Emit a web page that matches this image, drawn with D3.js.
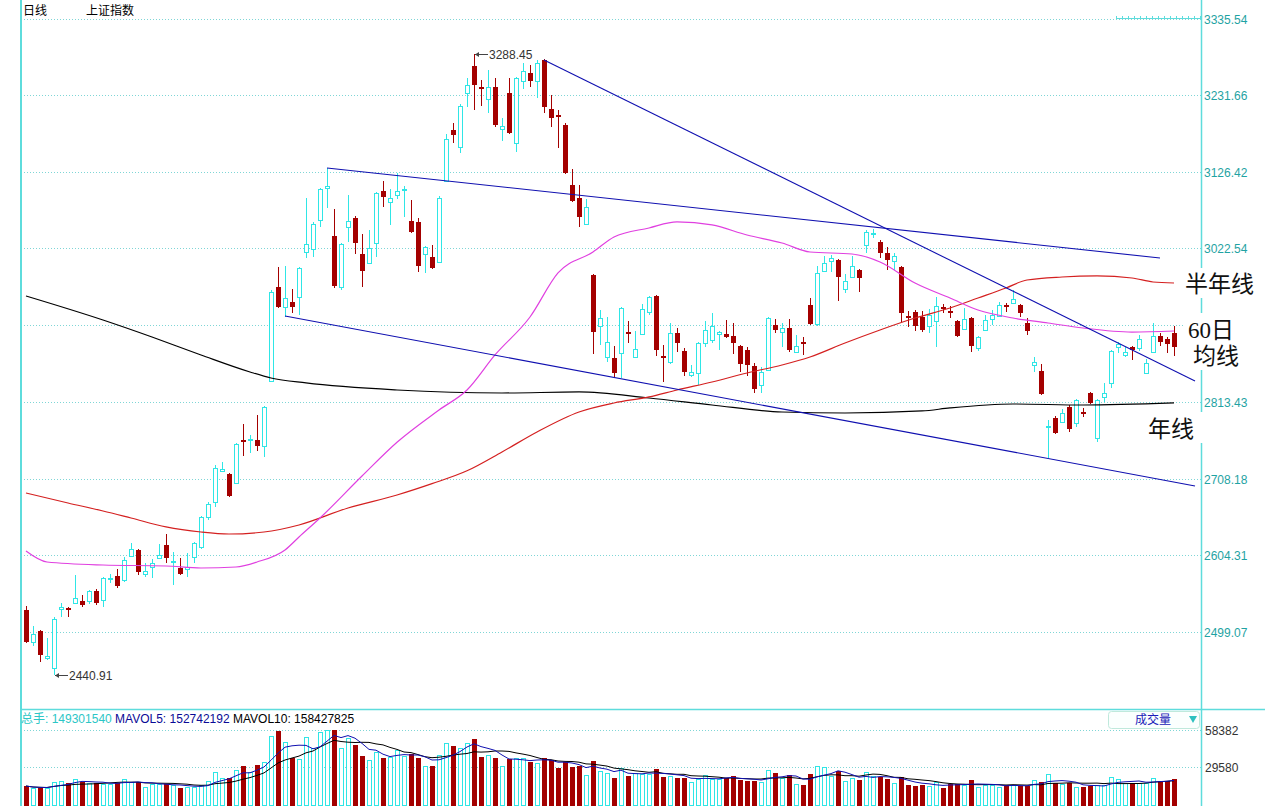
<!DOCTYPE html>
<html><head><meta charset="utf-8">
<script src="https://cdn.jsdelivr.net/npm/d3@7"></script>
<style>body{margin:0;background:#fff}svg{display:block}</style>
</head><body><svg id="c" width="1265" height="806"></svg>
<script>
// ---------------- DATA ----------------
const open=[2529.1,2485.4,2500.4,2463.6,2449.9,2530.5,2531.8,2538.6,2541.4,2541.4,
2555.0,2542.7,2571.4,2575.5,2570.0,2602.8,2611.0,2578.2,2587.8,2600.1,
2617.8,2594.6,2586.4,2585.0,2601.4,2615.1,2656.0,2676.5,2718.8,2714.7,
2702.4,2761.1,2761.1,2761.1,2752.9,2841.6,2969.9,2942.6,2949.4,2956.2,
3017.6,3021.7,3061.3,3105.0,3039.5,2969.9,3051.7,3064.0,3014.9,3002.6,
3029.9,3100.9,3085.9,3095.4,3102.2,3059.9,3058.6,3014.9,3010.8,3004.0,
3114.5,3184.1,3160.9,3234.6,3271.4,3242.8,3226.4,3242.8,3185.5,3234.6,
3166.4,3251.0,3261.9,3251.0,3279.6,3212.8,3204.6,3190.9,3109.1,3091.3,
3055.8,2986.2,2916.6,2874.3,2873.0,2879.8,2908.5,2874.3,2905.7,2935.7,
2957.6,2875.7,2867.5,2907.1,2882.5,2849.8,2852.5,2893.4,2897.5,2905.7,
2905.7,2903.0,2889.4,2883.9,2862.0,2836.1,2856.6,2918.0,2908.5,2913.9,
2881.2,2894.8,2945.3,2919.4,2991.7,3005.3,3006.7,2967.1,2983.5,2993.1,
3027.2,3042.2,3031.3,3016.3,3005.3,2997.2,2930.3,2935.7,2928.9,2916.6,
2923.5,2942.6,2937.1,2923.5,2912.6,2927.6,2886.6,2911.2,2926.2,2930.3,
2945.3,2948.0,2945.3,2920.7,2863.4,2855.2,2778.8,2791.1,2785.6,2806.1,
2784.3,2799.3,2825.2,2763.8,2819.8,2838.9,2888.0,2877.1,2888.0,2886.6,
2852.5,2881.2,2903.0,2898.9,2907.1];
const high=[2534.5,2507.3,2501.8,2490.9,2519.5,2538.6,2533.2,2576.9,2549.6,2556.4,
2557.8,2574.1,2578.2,2585.0,2601.4,2620.5,2612.3,2593.2,2598.7,2619.2,
2632.8,2608.2,2600.1,2606.9,2621.9,2657.4,2676.5,2727.0,2731.1,2716.0,
2757.0,2782.9,2767.9,2795.2,2807.5,2965.8,2997.2,2998.5,2967.1,2997.2,
3091.3,3058.6,3105.0,3132.3,3076.3,3029.9,3095.4,3066.8,3042.2,3047.6,
3099.5,3114.5,3103.6,3125.4,3107.7,3088.6,3064.0,3025.8,3027.2,3094.0,
3178.6,3193.7,3219.6,3255.1,3288.45,3252.3,3266.0,3255.1,3200.5,3255.1,
3256.4,3275.5,3272.8,3279.6,3281.0,3231.9,3211.4,3193.7,3130.9,3109.1,
3089.9,2987.6,2938.5,2928.9,2889.4,2942.6,2923.5,2909.8,2946.7,2957.6,
2958.9,2890.7,2920.7,2913.9,2886.6,2863.4,2894.8,2923.5,2934.4,2909.8,
2924.8,2920.7,2890.7,2888.0,2866.2,2860.7,2928.9,2926.2,2920.7,2926.2,
2904.4,2901.6,2954.9,2998.5,3012.2,3013.5,3008.1,2987.6,3012.2,2994.4,
3047.6,3049.0,3034.0,3024.4,3016.3,2998.5,2937.1,2938.5,2937.1,2939.8,
2956.2,2946.7,2943.9,2924.8,2941.2,2928.9,2903.0,2931.7,2938.5,2949.4,
2948.0,2965.8,2946.7,2927.6,2874.3,2864.8,2788.4,2793.8,2803.4,2808.8,
2817.0,2804.7,2826.6,2817.0,2838.9,2883.9,2894.8,2888.0,2889.4,2904.4,
2871.6,2920.7,2907.1,2901.6,2916.6];
const low=[2484.0,2480.0,2458.1,2460.9,2440.91,2519.5,2519.5,2537.5,2533.2,2537.3,
2535.9,2533.2,2565.9,2559.1,2567.3,2601.4,2576.9,2574.1,2572.8,2598.7,
2593.2,2563.2,2576.9,2574.1,2593.2,2612.3,2651.9,2669.7,2717.4,2683.3,
2701.0,2739.2,2743.3,2746.1,2737.9,2840.2,2941.2,2928.9,2934.4,2931.7,
3009.4,3010.8,3051.7,3077.7,2968.5,2965.8,3031.3,3014.9,2969.9,3001.5,
3010.8,3079.0,3054.5,3089.9,3065.4,3043.6,2990.3,2989.0,2994.4,3002.6,
3113.1,3166.4,3152.7,3215.5,3211.4,3216.9,3207.3,3188.2,3169.1,3178.6,
3154.1,3240.1,3242.8,3227.8,3207.3,3188.2,3159.5,3124.1,3086.0,3051.7,
3054.5,2878.4,2890.7,2867.5,2847.0,2845.7,2893.4,2873.0,2904.4,2931.7,
2875.7,2840.2,2864.8,2881.2,2848.4,2847.0,2836.1,2888.0,2893.4,2883.9,
2900.3,2878.4,2853.9,2848.4,2825.2,2825.2,2855.2,2907.1,2888.0,2881.2,
2879.8,2877.1,2918.0,2916.6,2990.3,2990.3,2950.8,2961.7,2982.0,2963.0,
3016.3,3036.7,3009.4,2993.1,2993.1,2922.1,2915.3,2909.8,2908.5,2907.1,
2888.0,2934.4,2927.6,2902.0,2911.2,2881.2,2882.5,2909.8,2918.0,2928.9,
2935.7,2947.0,2928.9,2904.4,2853.9,2822.5,2736.5,2769.3,2784.3,2772.0,
2778.8,2792.5,2810.2,2758.4,2812.9,2832.0,2879.8,2874.3,2870.2,2882.5,
2851.5,2879.8,2889.4,2879.8,2875.7];
const close=[2485.4,2496.3,2467.7,2466.3,2516.8,2533.2,2529.1,2545.5,2535.9,2555.0,
2538.6,2572.8,2573.0,2561.8,2597.3,2612.3,2581.0,2582.3,2593.2,2604.1,
2600.1,2596.0,2578.2,2587.8,2620.5,2656.0,2673.7,2722.9,2721.5,2684.7,
2755.6,2758.4,2762.4,2752.9,2806.1,2963.0,2942.6,2954.9,2942.6,2995.8,
3028.5,3055.8,3103.6,3107.7,2971.2,3028.5,3059.9,3029.9,2991.7,3023.1,
3098.1,3092.7,3091.3,3100.9,3103.6,3044.9,2998.5,3024.4,2995.8,3091.3,
3171.8,3177.3,3216.9,3245.5,3245.5,3240.1,3242.8,3190.9,3189.6,3180.0,
3255.1,3264.6,3251.0,3275.5,3215.5,3200.5,3201.8,3125.4,3087.2,3065.4,
3079.0,2908.5,2927.6,2894.8,2852.5,2941.2,2905.7,2885.3,2939.8,2956.2,
2883.9,2873.0,2907.1,2893.4,2853.9,2853.9,2893.4,2911.2,2916.6,2908.5,
2901.6,2893.4,2864.8,2863.4,2830.7,2853.9,2927.6,2911.2,2913.9,2883.9,
2889.4,2892.1,2919.4,2989.0,3002.6,3009.4,2983.5,2978.1,2998.5,2982.1,
3044.9,3043.6,3016.3,3006.7,3012.2,2934.4,2927.6,2916.6,2911.2,2931.7,
2943.9,2939.8,2934.4,2903.0,2926.2,2889.4,2901.6,2924.8,2931.7,2945.3,
2942.6,2953.5,2934.4,2909.8,2867.5,2823.9,2780.2,2770.6,2797.9,2776.1,
2815.7,2796.6,2811.6,2815.7,2825.2,2882.5,2892.1,2881.2,2883.9,2898.9,
2866.2,2903.0,2894.8,2892.1,2888.0];
const volume=[14790,13230,13230,13230,17900,18680,17120,20240,17900,17120,
17120,16350,16350,17120,20240,17900,17900,14010,16350,16350,
16350,15570,13230,14010,14010,15570,18680,25690,21020,21020,
27240,30360,25690,31140,33470,53710,57600,49040,36580,35810,
52930,44370,56820,58380,58380,44370,52150,46700,38140,35030,
41260,36580,37360,42810,38140,39700,36580,30360,30360,38920,
48260,45930,44370,48260,51370,37360,38920,36580,30360,35810,
36580,36580,33470,32690,36580,35030,28800,33470,29580,30360,
23350,34250,26470,24910,21020,28800,22570,24910,24130,24130,
28020,21800,22570,21020,21020,17900,20240,23350,20240,20240,
21020,22570,19460,18680,18680,17900,27240,24910,21020,23350,
16350,15570,24130,30360,29580,22570,26470,18680,21020,19460,
25690,22570,21800,20240,17120,21800,15570,14790,15570,14790,
17900,13230,16350,16350,15570,19460,14010,15570,15570,14010,
15570,15570,14790,14790,19460,17900,24130,17120,16350,17120,
14010,14010,14790,15570,15570,21800,20240,17120,17120,17120,
17120,21020,18680,18680,20240];
// moving-average lines: [bar index, price]
const ma60=[[0,2609.6],[3,2594.6],[11,2590.5],[20,2589.1],[25,2586.4],[30,2587.8],[33,2594.6],[37,2611.0],[39,2628.7],[42,2654.6],[48,2711.9],[53,2758.0],[59,2802.0],[63,2829.3],[67,2877.1],[72,2928.9],[76,2989.0],[81,3017.6],[84,3038.1],[89,3050.4],[93,3058.6],[98,3054.5],[103,3040.8],[108,3029.9],[112,3017.6],[118,3014.9],[122,3004.0],[127,2975.3],[132,2954.8],[136,2938.4],[141,2927.5],[146,2920.7],[151,2913.9],[158,2908.4],[164,2909.8]];
const ma120=[[0,2688.7],[6,2675.1],[11,2664.2],[15,2654.6],[20,2642.4],[25,2635.5],[29,2632.8],[34,2635.5],[39,2645.1],[46,2668.3],[53,2686.0],[58,2701.5],[63,2719.0],[68,2744.7],[73,2772.0],[79,2799.3],[84,2811.6],[89,2819.8],[93,2829.3],[98,2840.2],[103,2852.5],[108,2863.4],[112,2874.3],[117,2893.4],[122,2911.2],[127,2927.5],[132,2941.2],[136,2954.8],[140,2968.5],[143,2979.4],[148,2983.5],[153,2984.9],[158,2982.1],[161,2976.7],[164,2975.3]];
const ma250=[[0,2957.6],[11,2924.8],[18,2901.6],[25,2877.1],[32,2853.9],[35,2845.7],[40,2838.9],[53,2829.3],[68,2825.2],[79,2826.6],[89,2818.4],[98,2808.8],[108,2799.3],[117,2797.9],[128,2800.7],[132,2804.8],[141,2810.2],[151,2808.8],[164,2811.6]];
// hand-drawn trend lines: [bar index, price]
const trendUpper=[[43,3132.3],[162,3009.4]];
const trendLower=[[37,2930.3],[167,2698.3]];
const trendDesc=[[74,3279.6],[167,2841.6]];
const gridValues=[3335.54,3231.66,3126.42,3022.54,2917.99,2813.43,2708.18,2604.31,2499.07];
const priceTickLabels=["3335.54","3231.66","3126.42","3022.54","","2813.43","2708.18","2604.31","2499.07"];
const volTicks=[58382,29580];
const extremeMarks=[{i:64,v:3288.45},{i:4,v:2440.91}];
const volHeader=[{t:"总手: 149301540",c:"#2cc6c6"},{t:"MAVOL5: 152742192",c:"#0a0a96"},{t:"MAVOL10: 158427825",c:"#000"}];
const notes=[{lines:["半年线"],x:1185,y:292,box:[1183,268,78,30]},{lines:["60日","均线"],x:1188,y:338,box:[1185,313,64,57]},{lines:["年线"],x:1148,y:437,box:[1145,412,58,31]}];

// ---------------- DRAW ----------------
const svg=d3.select('#c');
const CY='#2fe6e6', RD='#a40000', GRID='#7fd6d6', AX='#5edcdc', LBL='#1fa3a3';
const x=d3.scaleLinear().domain([0,164]).range([26,1174]);
const y=d3.scaleLinear().domain([2499.07,3335.54]).range([632,19]);
const yv=d3.scaleLinear().domain([0,58382]).range([805,730]);
svg.append('rect').attr('width',1265).attr('height',806).attr('fill','#fff');

// header
svg.append('text').attr('x',23).attr('y',15).attr('font-size',12).attr('font-family','"Noto Sans CJK SC",sans-serif').text('日线');
svg.append('text').attr('x',86).attr('y',15).attr('font-size',12).attr('font-family','"Noto Sans CJK SC",sans-serif').text('上证指数');

// grid price
const gp=svg.append('g');
gridValues.forEach((t,k)=>{
  gp.append('line').attr('x1',21).attr('x2',1201).attr('y1',Math.round(y(t))+0.5).attr('y2',Math.round(y(t))+0.5)
    .attr('stroke',GRID).attr('stroke-dasharray','1,2');
  if(priceTickLabels[k]) gp.append('text').attr('x',1204).attr('y',Math.round(y(t))+5).attr('font-size',12)
    .attr('font-family','"Liberation Sans",Arial,sans-serif').attr('fill',LBL).text(priceTickLabels[k]);
});
volTicks.forEach(t=>{
  gp.append('line').attr('x1',21).attr('x2',1201).attr('y1',Math.round(yv(t))+0.5).attr('y2',Math.round(yv(t))+0.5)
    .attr('stroke',GRID).attr('stroke-dasharray','1,2');
  gp.append('text').attr('x',1205).attr('y',Math.round(yv(t))+5).attr('font-size',12)
    .attr('font-family','"Liberation Sans",Arial,sans-serif').attr('fill','#333').text(t);
});

// mini ruler top right
svg.append('line').attr('x1',1116).attr('x2',1201).attr('y1',18.5).attr('y2',18.5).attr('stroke',AX);
d3.range(1116,1201,6).forEach(v=>svg.append('line').attr('x1',v+0.5).attr('x2',v+0.5).attr('y1',16).attr('y2',19).attr('stroke',AX));

// candles
const idx=d3.range(open.length);
const cg=svg.append('g').attr('shape-rendering','crispEdges');
idx.forEach(i=>{
  const cx=Math.round(x(i)); const up=close[i]>=open[i];
  const yt=Math.round(y(Math.max(open[i],close[i]))), yb=Math.round(y(Math.min(open[i],close[i])));
  const yh=Math.round(y(high[i])), yl=Math.round(y(low[i]));
  if(up){
    cg.append('line').attr('x1',cx+0.5).attr('x2',cx+0.5).attr('y1',yh).attr('y2',yt).attr('stroke',CY);
    cg.append('line').attr('x1',cx+0.5).attr('x2',cx+0.5).attr('y1',yb).attr('y2',yl).attr('stroke',CY);
    if(yb-yt<2){cg.append('rect').attr('x',cx-2).attr('y',yt).attr('width',5).attr('height',yb-yt+1).attr('fill',CY);}
    else cg.append('rect').attr('x',cx-1.5).attr('y',yt+0.5).attr('width',4).attr('height',yb-yt).attr('fill','#fff').attr('stroke',CY);
  } else {
    cg.append('line').attr('x1',cx+0.5).attr('x2',cx+0.5).attr('y1',yh).attr('y2',yl).attr('stroke',RD);
    cg.append('rect').attr('x',cx-2).attr('y',yt).attr('width',5).attr('height',Math.max(1,yb-yt)).attr('fill',RD);
  }
});

// MA lines
const line=d3.line().x(d=>x(d[0])).y(d=>y(d[1])).curve(d3.curveMonotoneX);
svg.append('path').attr('d',line(ma250)).attr('fill','none').attr('stroke','#000').attr('stroke-width',1.2);
svg.append('path').attr('d',line(ma120)).attr('fill','none').attr('stroke','#d42020').attr('stroke-width',1.2);
svg.append('path').attr('d',line(ma60)).attr('fill','none').attr('stroke','#e040e0').attr('stroke-width',1.2);
// trend lines
const tl=d3.line().x(d=>x(d[0])).y(d=>y(d[1]));
[trendUpper,trendLower,trendDesc].forEach(t=>svg.append('path').attr('d',tl(t)).attr('fill','none').attr('stroke','#1010b0').attr('stroke-width',1.1));

// extreme labels
extremeMarks.forEach(m=>{
  const px=Math.round(x(m.i))+1, py=Math.round(y(m.v))+0.5;
  svg.append('line').attr('x1',px).attr('x2',px+13).attr('y1',py).attr('y2',py).attr('stroke','#444');
  svg.append('path').attr('d',`M${px},${py} l4,-2.5 l0,5 z`).attr('fill','#444');
  svg.append('text').attr('x',px+14).attr('y',py+4.5).attr('font-size',12)
    .attr('font-family','"Liberation Sans",Arial,sans-serif').attr('fill','#333').text(m.v.toFixed(2));
});

// volume panel
const vg=svg.append('g').attr('shape-rendering','crispEdges');
idx.forEach(i=>{
  const cx=Math.round(x(i)); const up=close[i]>=open[i]; const yt=Math.round(yv(volume[i]));
  if(up) vg.append('rect').attr('x',cx-1.5).attr('y',yt+0.5).attr('width',4).attr('height',805-yt).attr('fill','#fff').attr('stroke',CY);
  else vg.append('rect').attr('x',cx-2).attr('y',yt).attr('width',5).attr('height',806-yt).attr('fill',RD);
});
const mav=n=>volume.map((v,i)=>d3.mean(volume.slice(Math.max(0,i-n+1),i+1)));
const vline=d3.line().x((d,i)=>x(i)).y(d=>yv(d));
svg.append('path').attr('d',vline(mav(10))).attr('fill','none').attr('stroke','#000').attr('stroke-width',1);
svg.append('path').attr('d',vline(mav(5))).attr('fill','none').attr('stroke','#1010b0').attr('stroke-width',1);

// frame lines
svg.append('line').attr('x1',21).attr('x2',21).attr('y1',0).attr('y2',806).attr('stroke',AX).attr('stroke-width',2);
svg.append('line').attr('x1',1201.5).attr('x2',1201.5).attr('y1',0).attr('y2',806).attr('stroke',AX).attr('stroke-width',1.5);
svg.append('line').attr('x1',20).attr('x2',1265).attr('y1',709.5).attr('y2',709.5).attr('stroke',AX).attr('stroke-width',1.5);

// volume header
const ht=svg.append('text').attr('x',21).attr('y',723).attr('font-size',12).attr('font-family','"Liberation Sans","Noto Sans CJK SC",Arial,sans-serif');
volHeader.forEach((h,k)=>ht.append('tspan').attr('fill',h.c).text((k?' ':'')+h.t));

// dropdown
svg.append('rect').attr('x',1108.5).attr('y',711.5).attr('width',91).attr('height',17).attr('rx',3).attr('fill','#fbfffe').attr('stroke','#bfe9dc');
svg.append('text').attr('x',1135).attr('y',724).attr('font-size',12).attr('font-family','"Noto Sans CJK SC",sans-serif').attr('fill','#1a1ab8').text('成交量');
svg.append('path').attr('d','M1189,716 L1197,716 L1193,723 Z').attr('fill','#2fc0c0');

// annotations
notes.forEach(n=>{
  svg.append('rect').attr('x',n.box[0]).attr('y',n.box[1]).attr('width',n.box[2]).attr('height',n.box[3]).attr('fill','#fff');
  n.lines.forEach((l,k)=>svg.append('text').attr('x',n.x+(k?5:0)).attr('y',n.y+k*26).attr('font-size',23)
    .attr('font-family','"Liberation Serif","Noto Sans CJK SC",serif').attr('fill','#111').text(l));
});
</script></body></html>
